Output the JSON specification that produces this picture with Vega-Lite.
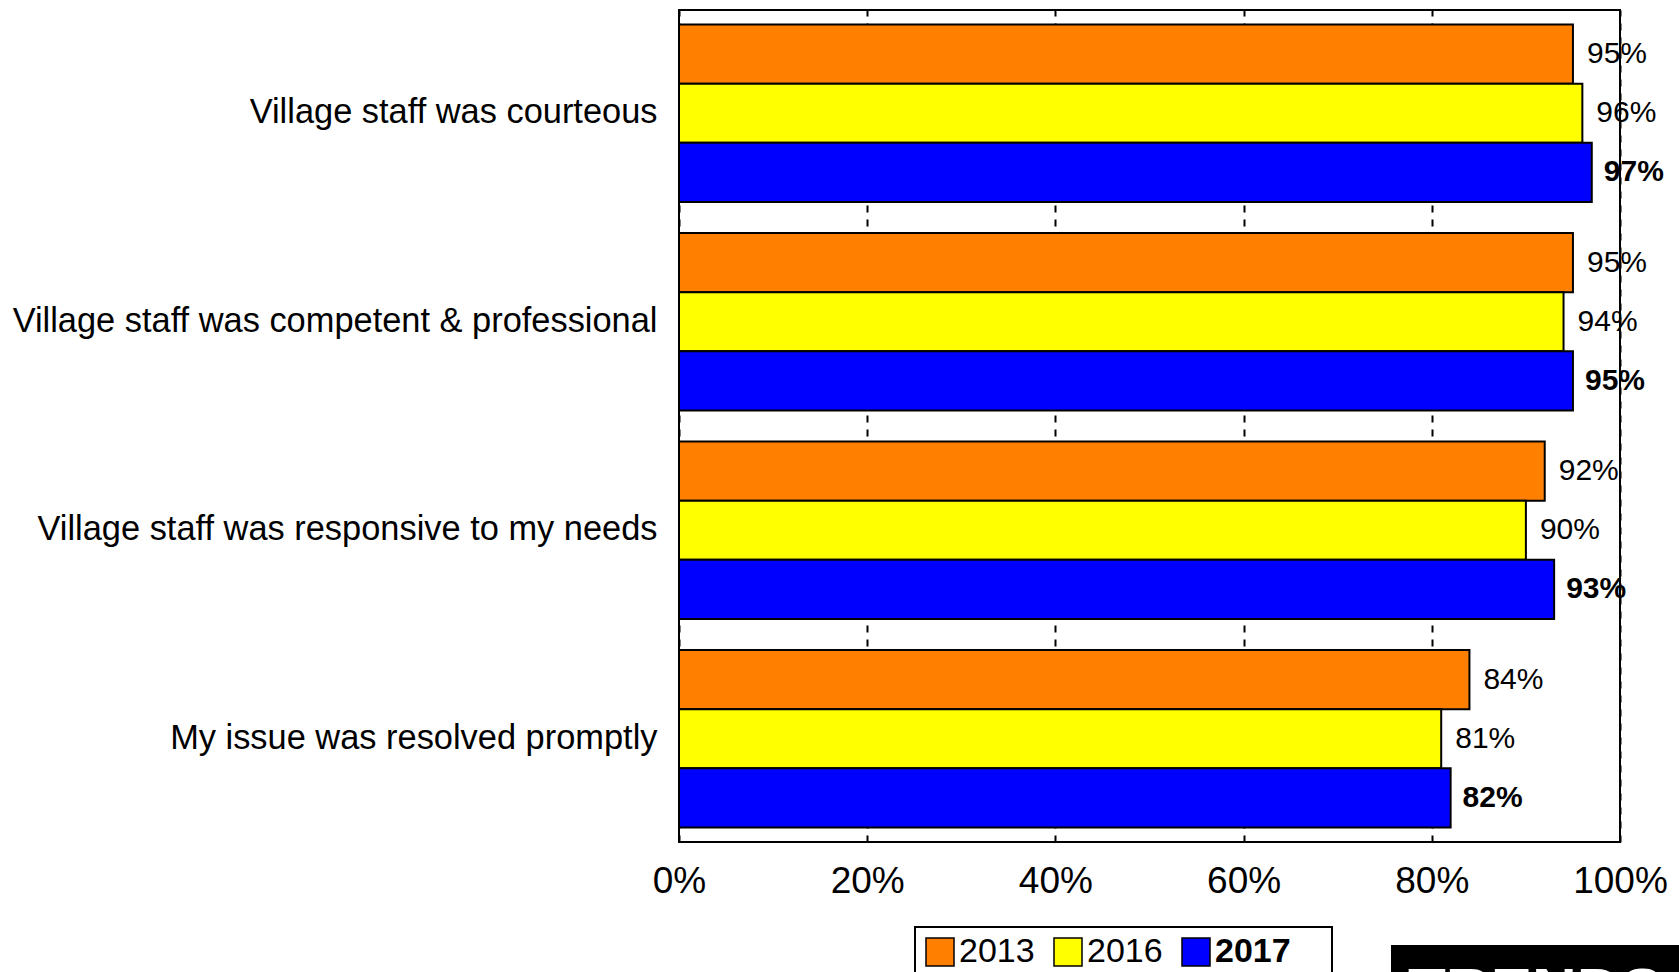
{
  "$schema": "https://vega.github.io/schema/vega-lite/v6.json",
  "autosize": "none",
  "width": 941,
  "height": 832,
  "padding": {"left": 679, "top": 10, "right": 59, "bottom": 130},
  "background": "white",
  "config": {
    "font": "Liberation Sans",
    "view": {"stroke": "black", "strokeWidth": 2}
  },
  "datasets": {
    "survey": [
      {"question": "Village staff was courteous", "year": "2013", "pct": 0.95},
      {"question": "Village staff was courteous", "year": "2016", "pct": 0.96},
      {"question": "Village staff was courteous", "year": "2017", "pct": 0.97},
      {"question": "Village staff was competent & professional", "year": "2013", "pct": 0.95},
      {"question": "Village staff was competent & professional", "year": "2016", "pct": 0.94},
      {"question": "Village staff was competent & professional", "year": "2017", "pct": 0.95},
      {"question": "Village staff was responsive to my needs", "year": "2013", "pct": 0.92},
      {"question": "Village staff was responsive to my needs", "year": "2016", "pct": 0.90},
      {"question": "Village staff was responsive to my needs", "year": "2017", "pct": 0.93},
      {"question": "My issue was resolved promptly", "year": "2013", "pct": 0.84},
      {"question": "My issue was resolved promptly", "year": "2016", "pct": 0.81},
      {"question": "My issue was resolved promptly", "year": "2017", "pct": 0.82}
    ],
    "badge": [{"badge": "TRENDS"}]
  },
  "layer": [
    {
      "data": {"name": "survey"},
      "encoding": {
        "y": {
          "field": "question",
          "type": "nominal",
          "sort": ["Village staff was courteous", "Village staff was competent & professional", "Village staff was responsive to my needs", "My issue was resolved promptly"],
          "scale": {"paddingInner": 0.149, "paddingOuter": 0.07},
          "axis": {"title": null, "domain": false, "ticks": false, "labelPadding": 22, "labelFontSize": 34.4, "labelColor": "black", "labelLimit": 0, "labelFont": "Liberation Sans"}
        },
        "yOffset": {
          "field": "year",
          "type": "nominal",
          "sort": ["2013", "2016", "2017"],
          "scale": {"paddingInner": 0, "paddingOuter": 0}
        },
        "x": {
          "field": "pct",
          "type": "quantitative",
          "scale": {"domain": [0, 1], "nice": false},
          "axis": {
            "title": null,
            "values": [0, 0.2, 0.4, 0.6, 0.8, 1],
            "format": ".0%",
            "grid": true,
            "gridDash": [7, 7],
            "gridColor": "black",
            "gridWidth": 2,
            "gridOpacity": 1,
            "domain": false,
            "ticks": false,
            "labelFlush": false,
            "labelFontSize": 37,
            "labelPadding": 21,
            "labelColor": "black",
            "labelFont": "Liberation Sans"
          }
        }
      },
      "layer": [
        {
          "mark": {"type": "bar", "stroke": "black", "strokeWidth": 2, "opacity": 1},
          "encoding": {
            "color": {
              "field": "year",
              "type": "nominal",
              "scale": {"domain": ["2013", "2016", "2017"], "range": ["#FF8000", "#FFFF00", "#0000FF"]},
              "legend": {
                "orient": "none",
                "legendX": 236,
                "legendY": 917,
                "direction": "horizontal",
                "title": "\u00a0",
                "titleOrient": "right",
                "titleFontSize": 34,
                "titlePadding": 33,
                "strokeColor": "black",
                "fillColor": "white",
                "padding": 8,
                "symbolType": "square",
                "symbolSize": 784,
                "symbolStrokeColor": "black",
                "symbolStrokeWidth": 1.5,
                "symbolOpacity": 1,
                "labelFontSize": 34,
                "labelColor": "black",
                "labelFont": "Liberation Sans",
                "labelOffset": 2,
                "columnPadding": 16,
                "encode": {
                  "legend": {"update": {"strokeWidth": {"value": 2}}},
                  "labels": {
                    "update": {"fontWeight": {"signal": "datum.label === '2017' ? 'bold' : 'normal'"}}
                  }
                }
              }
            }
          }
        },
        {
          "transform": [{"filter": "datum.year !== '2017'"}],
          "mark": {"type": "text", "align": "left", "baseline": "middle", "dx": 14, "fontSize": 30, "color": "black", "font": "Liberation Sans"},
          "encoding": {"text": {"field": "pct", "type": "quantitative", "format": ".0%"}}
        },
        {
          "transform": [{"filter": "datum.year === '2017'"}],
          "mark": {"type": "text", "align": "left", "baseline": "middle", "dx": 12, "fontSize": 30, "fontWeight": "bold", "color": "black", "font": "Liberation Sans"},
          "encoding": {"text": {"field": "pct", "type": "quantitative", "format": ".0%"}}
        }
      ]
    },
    {
      "data": {"name": "badge"},
      "mark": {"type": "point", "opacity": 0},
      "encoding": {
        "shape": {
          "field": "badge",
          "type": "nominal",
          "legend": {
            "orient": "none",
            "legendX": 712,
            "legendY": 935,
            "title": "TRENDS",
            "titleColor": "white",
            "titleFontSize": 62,
            "titleFontWeight": "bold",
            "titleFont": "Liberation Sans",
            "titleBaseline": "top",
            "titleLimit": 0,
            "fillColor": "black",
            "padding": 17,
            "symbolSize": 0,
            "symbolOpacity": 0,
            "symbolStrokeWidth": 0,
            "labelColor": "black",
            "labelFontSize": 1
          }
        }
      }
    }
  ]
}
